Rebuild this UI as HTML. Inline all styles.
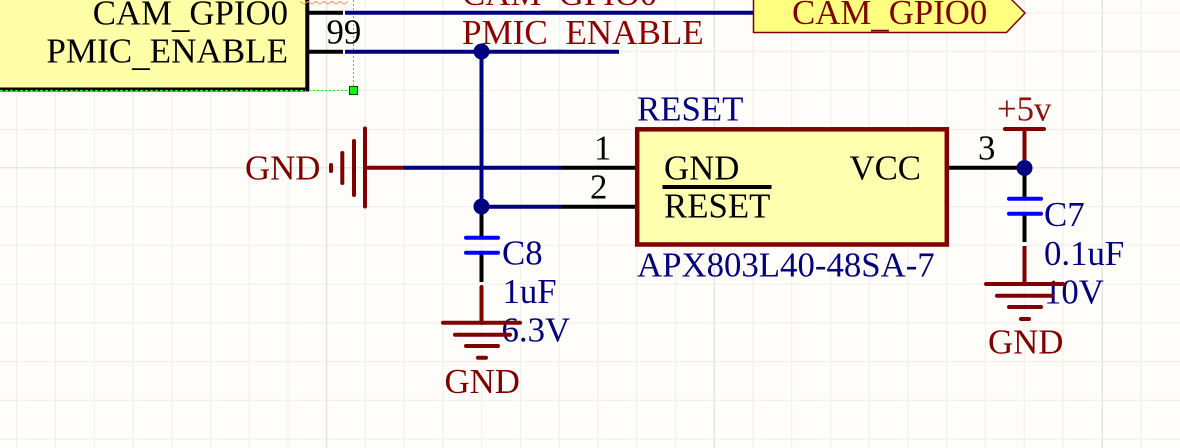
<!DOCTYPE html>
<html><head><meta charset="utf-8"><style>
html,body{margin:0;padding:0;background:#fffdf9;overflow:hidden}
svg{display:block}
text{font-family:"Liberation Serif",serif;font-size:34.8px}
</style></head><body>
<svg width="1180" height="448" viewBox="0 0 1180 448" xmlns="http://www.w3.org/2000/svg">
<rect width="1180" height="448" fill="#fffdf9"/>
<g stroke="#f1f0eb" stroke-width="1.2" fill="none">
<path d="M16.7 0V448M55.4 0V448M94.2 0V448M133 0V448M171.7 0V448M210.5 0V448M249.2 0V448M288 0V448M365.5 0V448M404.2 0V448M443 0V448M481.7 0V448M520.5 0V448M559.2 0V448M598 0V448M636.7 0V448M675.5 0V448M753 0V448M791.7 0V448M830.5 0V448M869.2 0V448M908 0V448M946.7 0V448M985.5 0V448M1024.2 0V448M1063 0V448M1141 0V448"/>
<path d="M0 12.8H1180M0 51.5H1180M0 90.3H1180M0 129.5H1180M0 206.6H1180M0 245.3H1180M0 284.2H1180M0 322.8H1180M0 361.5H1180M0 400.3H1180M0 439.2H1180"/>
</g>
<g stroke="#e2e1dc" stroke-width="1.2" fill="none">
<path d="M326.7 0V448M714.3 0V448M1102.3 0V448M0 167.8H1180"/>
</g>

<!-- top-left component -->
<rect x="-10" y="-10" width="317.3" height="99.5" fill="#ffffa8" stroke="#000" stroke-width="4"/>
<path d="M0 90.5H306" stroke="#00ff00" stroke-width="1.2" stroke-dasharray="3 2"/>
<path d="M309 90.5H349" stroke="#00ff00" stroke-width="1" stroke-dasharray="2 2"/>
<path d="M353.5 0V86" stroke="#00ff00" stroke-width="1" stroke-dasharray="2 2"/>
<rect x="349.500" y="86.500" width="8" height="8" fill="#00ff00" stroke="#004000" stroke-width="1"/>
<path d="M300 1.5l4 2.5 4-2.5 4 2.5 4-2.5 4 2.5 4-2.5 4 2.5 4-2.500 4 2.500 4-2.500 4 2.500 4-2.500" fill="none" stroke="#ff9050" stroke-width="1"/>
<text x="288" y="24.5" text-anchor="end" fill="#000">CAM<tspan dy="3">_</tspan><tspan dy="-3">GPIO0</tspan></text>
<text x="288" y="62.5" text-anchor="end" fill="#000" style="font-size:35.1px">PMIC<tspan dy="3">_</tspan><tspan dy="-3">ENABLE</tspan></text>
<text x="326.500" y="43.500" fill="#000">99</text>

<!-- net labels (underscores sit beneath the wires) -->
<text x="462" y="5" fill="#8f0000">CAM<tspan dy="3">_</tspan><tspan dy="-3">GPIO0</tspan></text>
<text x="462" y="44" fill="#8f0000" style="font-size:35.1px">PMIC<tspan dy="3">_</tspan><tspan dy="-3">ENABLE</tspan></text>

<!-- pins -->
<g stroke="#000" stroke-width="4" fill="none">
<path d="M307 12.700H343M307 51.700H343"/>
<path d="M561.500 167.700H637M561.500 206.700H637M946 167.700H1024"/>
<path d="M481.500 206.500V237M481.500 253V282"/>
<path d="M1024.500 168V198M1024.500 214V242"/>
</g>

<!-- blue wires -->
<g stroke="#000080" stroke-width="4" fill="none">
<path d="M345 12.700H755M345 51.700H619"/>
<path d="M481.500 52V206.500M403 167.700H561.500M481.500 206.700H561.500"/>
</g>
<circle cx="481.500" cy="51.500" r="8" fill="#000080"/>
<circle cx="481.500" cy="206.500" r="8" fill="#000080"/>
<circle cx="1024.500" cy="168" r="8" fill="#000080"/>

<!-- port -->
<path d="M753.500 -10V32.500H1006.500L1025 13L1002 -10Z" fill="#ffff80" stroke="#800000" stroke-width="1.5"/>
<text x="792" y="24" fill="#800000">CAM<tspan dy="3">_</tspan><tspan dy="-3">GPIO0</tspan></text>

<!-- U -->
<rect x="637.200" y="129.300" width="309.600" height="115.200" fill="#ffffb0" stroke="#800000" stroke-width="4.500"/>
<text x="637" y="120.500" fill="#000080">RESET</text>
<text x="637" y="276.500" fill="#000080">APX803L40-48SA-7</text>
<text x="664" y="179.500" fill="#000">GND</text>
<text x="664" y="217.500" fill="#000">RESET</text>
<text x="921" y="179.500" text-anchor="end" fill="#000">VCC</text>
<path d="M662.500 187H771.500" stroke="#000" stroke-width="4"/>
<text x="594" y="159.500" fill="#000">1</text>
<text x="590" y="198.500" fill="#000">2</text>
<text x="978" y="159.500" fill="#000">3</text>

<!-- GND left -->
<g stroke="#800000" fill="none" stroke-linecap="round">
<path d="M365 167.700H402" stroke-width="4"/>
<path d="M365 128.500V206.500" stroke-width="4"/>
<path d="M354 141V195" stroke-width="4"/>
<path d="M342.300 153V183" stroke-width="4"/>
<path d="M331 165V171" stroke-width="4"/>
</g>
<text x="245" y="179.500" fill="#800000">GND</text>

<!-- C8 -->
<g fill="none" stroke="#0000ff" stroke-width="4" stroke-linecap="round">
<path d="M466 237.700H498M466 252.700H498"/>
<path d="M1009 198.700H1041M1009 213.700H1041"/>
</g>
<text x="502" y="264.500" fill="#000080">C8</text>
<text x="502.500" y="303" fill="#000080">1uF</text>
<text x="501.500" y="341.500" fill="#000080">6.3V</text>

<!-- GND C8 -->
<g stroke="#800000" fill="none" stroke-width="4" stroke-linecap="round">
<path d="M481.500 287V323"/>
<path d="M443 322.700H520M455 334.700H510M466 346H498M478 357.700H486"/>
</g>
<text x="444.500" y="393" fill="#800000">GND</text>

<!-- C7 -->
<text x="1044" y="226" fill="#000080">C7</text>
<text x="1044" y="265" fill="#000080">0.1uF</text>
<text x="1044" y="303.500" fill="#000080">10V</text>

<!-- +5v -->
<g stroke="#800000" fill="none" stroke-width="4">
<path d="M1005 129H1044" stroke-linecap="round"/>
<path d="M1024.500 129V160"/>
<path d="M1024.500 246V284"/>
</g>
<text x="997" y="120.500" fill="#8f1010">+5v</text>

<!-- GND C7 -->
<g stroke="#800000" fill="none" stroke-width="4" stroke-linecap="round">
<path d="M986 284H1063M997 295.700H1052M1009 307H1041M1021 319H1029"/>
</g>
<text x="988" y="353.500" fill="#800000">GND</text>
</svg>
</body></html>
